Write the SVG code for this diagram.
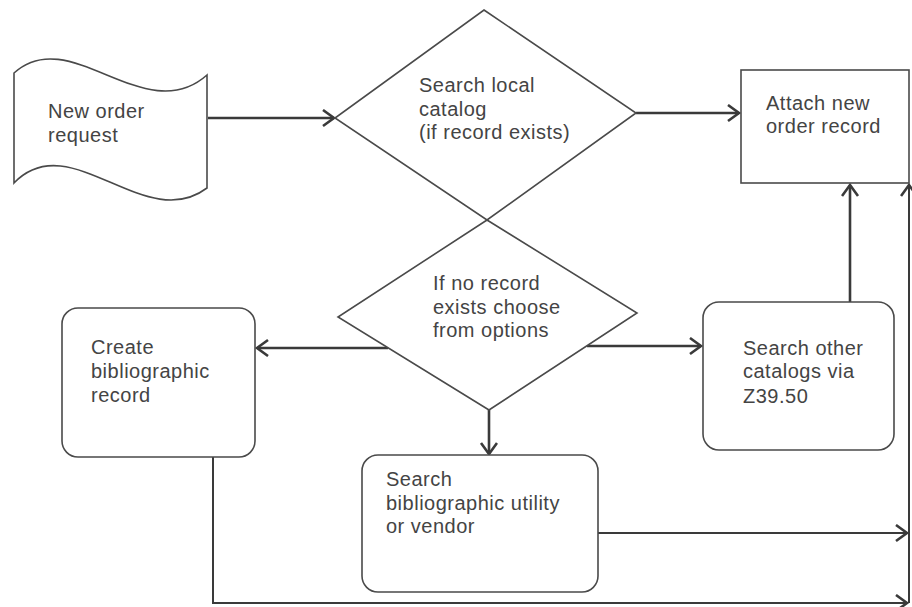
<svg xmlns="http://www.w3.org/2000/svg" width="912" height="607" viewBox="0 0 912 607">
<style>
  .shape { fill: #ffffff; stroke: #4a4a4a; stroke-width: 1.6; }
  .conn { fill: none; stroke: #3a3a3a; stroke-width: 2.6; }
  .thin { fill: none; stroke: #3a3a3a; stroke-width: 2; }
  text { font-family: "Liberation Sans", Arial, sans-serif; font-size: 20px; fill: #444444; letter-spacing: 0.5px; }
</style>
<defs>
  <marker id="arr" markerUnits="userSpaceOnUse" markerWidth="16" markerHeight="20" refX="13" refY="9" orient="auto">
    <path d="M2,1 L13,9 L2,17" fill="none" stroke="#3a3a3a" stroke-width="2.6"/>
  </marker>
</defs>
<rect width="912" height="607" fill="#ffffff"/>

<g id="connectors">
  <line class="conn" x1="208" y1="118" x2="334" y2="118" marker-end="url(#arr)"/>
  <line class="conn" x1="636" y1="113" x2="739" y2="113" marker-end="url(#arr)"/>
  <line class="conn" x1="388" y1="348" x2="257" y2="348" marker-end="url(#arr)"/>
  <line class="conn" x1="587" y1="346" x2="701" y2="346" marker-end="url(#arr)"/>
  <line class="conn" x1="489" y1="410" x2="489" y2="454" marker-end="url(#arr)"/>
  <line class="conn" x1="850" y1="302" x2="850" y2="185" marker-end="url(#arr)"/>
  <line class="thin" x1="598" y1="533" x2="907" y2="533" marker-end="url(#arr)"/>
  <polyline class="thin" points="213,457 213,603 907,603" marker-end="url(#arr)"/>
  <line class="thin" x1="909" y1="603" x2="909" y2="185" marker-end="url(#arr)"/>
</g>

<g id="new-order-request">
  <path class="shape" d="M14,73 C70,22 145,130 207,75 L207,188 C145,235 70,125 14,183 Z"/>
  <text x="48" y="118">New order</text>
  <text x="48" y="142">request</text>
</g>

<g id="search-local-catalog">
  <polygon class="shape" points="484,10 636,113 487,220 335,118"/>
  <text x="419" y="92">Search local</text>
  <text x="419" y="116">catalog</text>
  <text x="419" y="139">(if record exists)</text>
</g>

<g id="attach-new-order-record">
  <rect class="shape" x="741" y="70" width="168" height="113"/>
  <text x="766" y="110">Attach new</text>
  <text x="766" y="133">order record</text>
</g>

<g id="choose-options">
  <polygon class="shape" points="487,220 637,313 489,410 338,317"/>
  <text x="433" y="290">If no record</text>
  <text x="433" y="314">exists choose</text>
  <text x="433" y="337">from options</text>
</g>

<g id="create-bibliographic-record">
  <rect class="shape" x="62" y="308" width="193" height="149" rx="16" ry="16"/>
  <text x="91" y="354">Create</text>
  <text x="91" y="378">bibliographic</text>
  <text x="91" y="402">record</text>
</g>

<g id="search-other-catalogs">
  <rect class="shape" x="703" y="302" width="191" height="148" rx="16" ry="16"/>
  <text x="743" y="355">Search other</text>
  <text x="743" y="378">catalogs via</text>
  <text x="743" y="403">Z39.50</text>
</g>

<g id="search-bibliographic-utility">
  <rect class="shape" x="362" y="455" width="236" height="137" rx="16" ry="16"/>
  <text x="386" y="486">Search</text>
  <text x="386" y="510">bibliographic utility</text>
  <text x="386" y="533">or vendor</text>
</g>
</svg>
